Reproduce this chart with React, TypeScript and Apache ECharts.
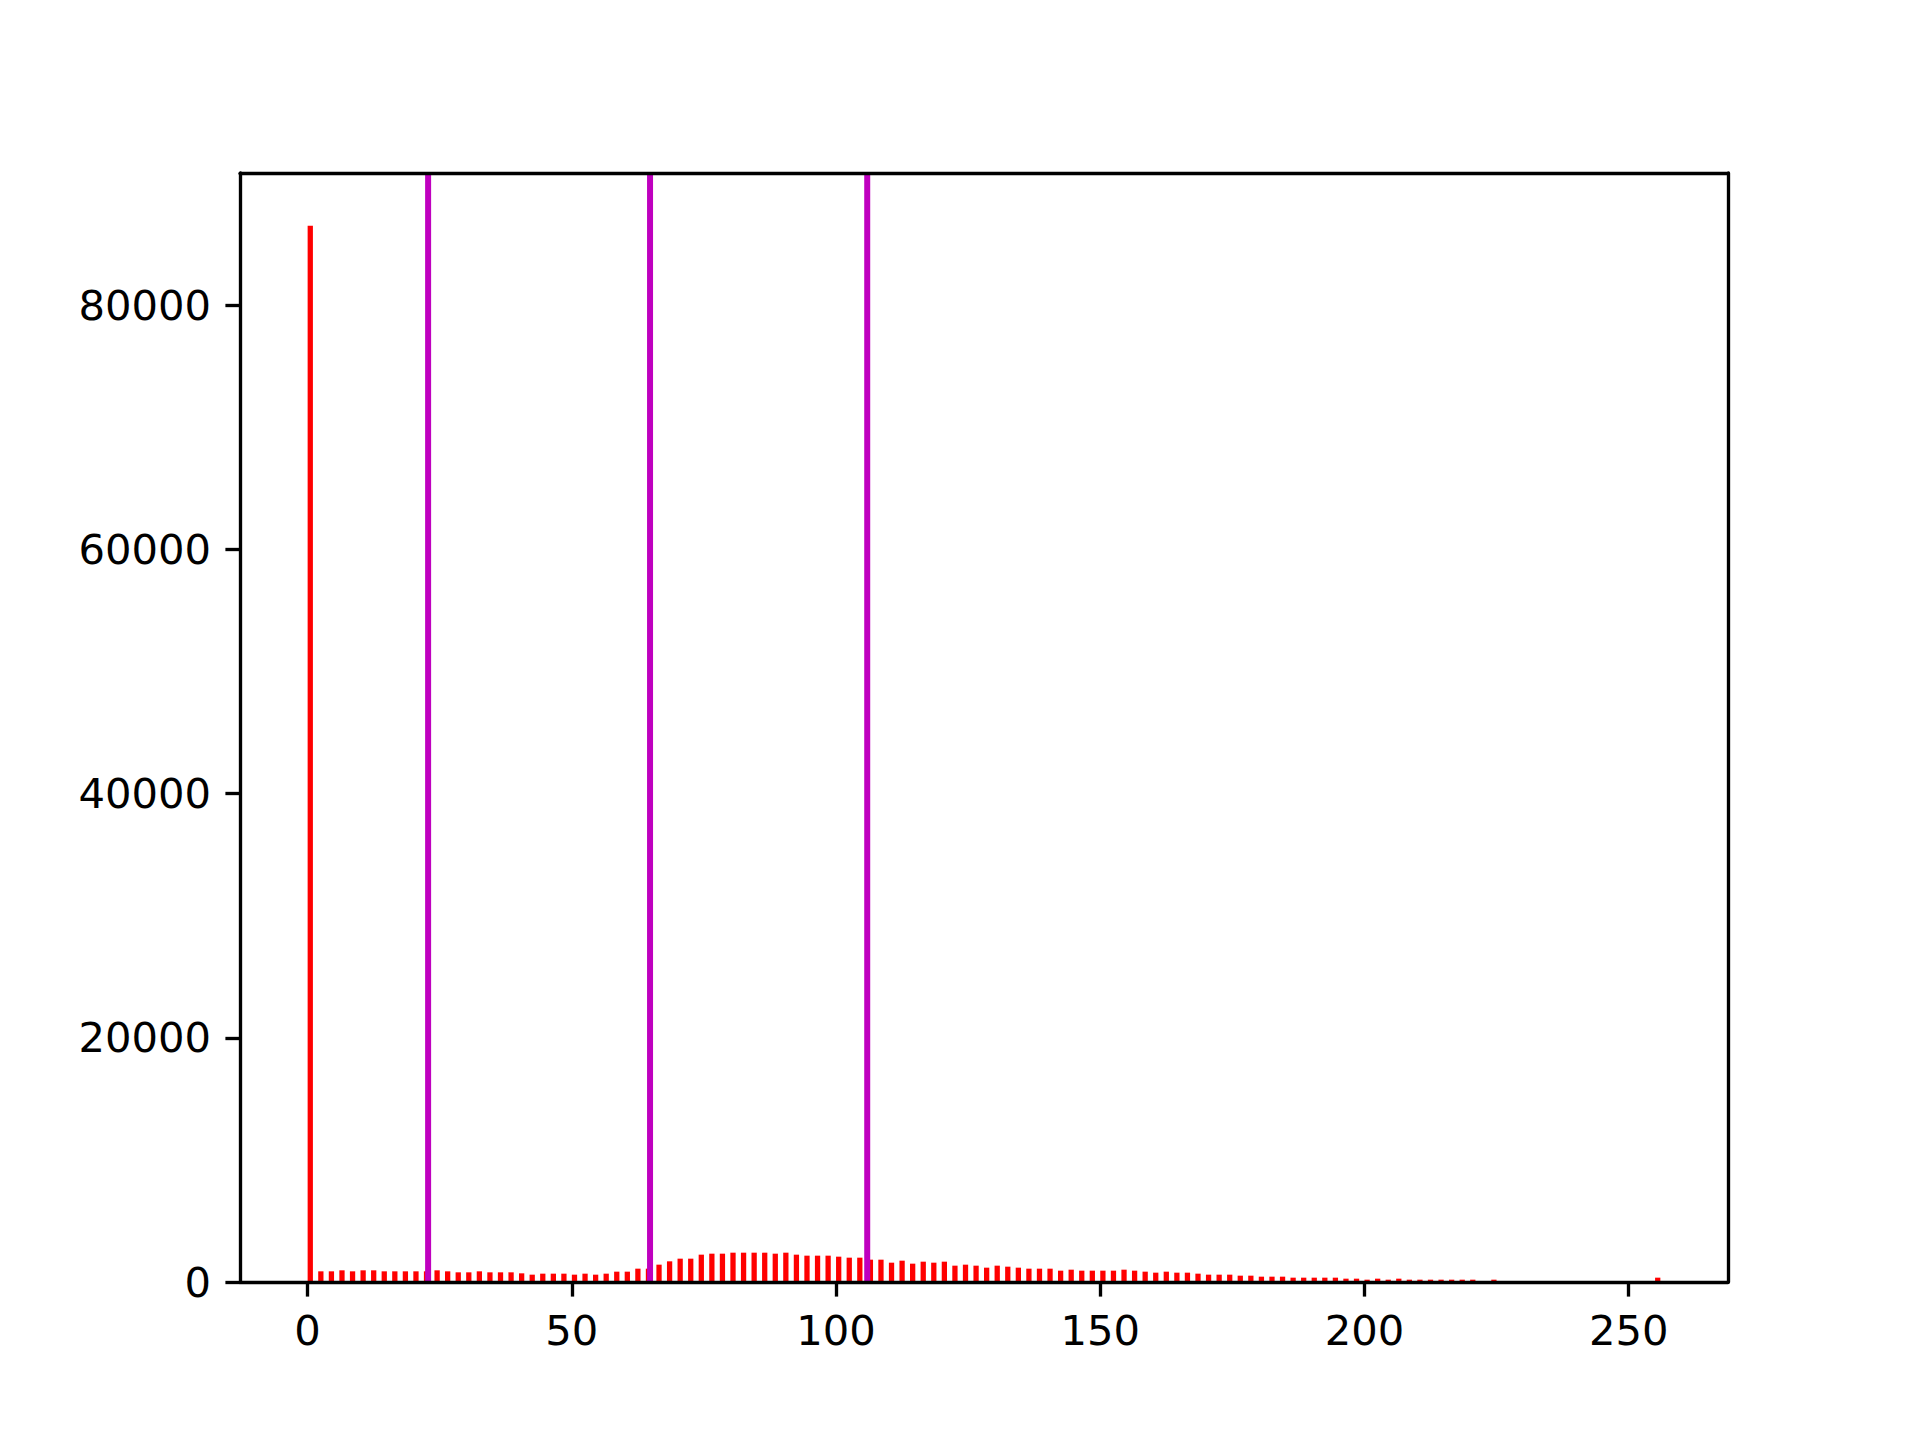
import React, { useEffect, useRef } from "react";
import * as echarts from "echarts";

// Histogram bins (left edge of each 1-wide bin) and their counts
const binStarts: number[] = [
  0, 2, 4, 6, 8, 10, 12, 14, 16, 18, 20, 22, 24, 26, 28, 30, 32, 34, 36, 38,
  40, 42, 44, 46, 48, 50, 52, 54, 56, 58, 60, 62, 64, 66, 68, 70, 72, 74, 76, 78,
  80, 82, 84, 86, 88, 90, 92, 94, 96, 98, 100, 102, 104, 106, 108, 110, 112, 114, 116, 118,
  120, 122, 124, 126, 128, 130, 132, 134, 136, 138, 140, 142, 144, 146, 148, 150, 152, 154, 156, 158,
  160, 162, 164, 166, 168, 170, 172, 174, 176, 178, 180, 182, 184, 186, 188, 190, 192, 194, 196, 198,
  200, 202, 204, 206, 208, 210, 212, 214, 216, 218, 220, 224, 255,
];
const counts: number[] = [
  86500, 874, 874, 956, 874, 956, 956, 874, 874, 874, 874, 874, 956, 874, 792, 792, 874, 792, 792, 792,
  710, 601, 683, 683, 683, 601, 683, 601, 683, 847, 847, 1092, 1092, 1420, 1693, 1911, 1911, 2239, 2320, 2320,
  2402, 2402, 2402, 2402, 2320, 2402, 2239, 2157, 2157, 2157, 2075, 1993, 1993, 1829, 1829, 1583, 1747, 1502, 1665, 1583,
  1665, 1338, 1420, 1338, 1174, 1338, 1256, 1174, 1092, 1092, 1092, 928, 1010, 928, 928, 928, 928, 1010, 928, 847,
  765, 847, 765, 765, 683, 601, 601, 601, 519, 519, 437, 437, 437, 355, 355, 355, 355, 355, 273, 273,
  191, 273, 191, 273, 191, 191, 191, 191, 191, 191, 191, 191, 355,
];
const thresholds: number[] = [22.8, 64.8, 105.9];
const xTicks: number[] = [0, 50, 100, 150, 200, 250];
const yTicks: number[] = [0, 20000, 40000, 60000, 80000];

const X_MIN = -12.8;
const X_MAX = 268.8;
const Y_MAX = 90825;

export default function App() {
  const ref = useRef<HTMLDivElement>(null);
  useEffect(() => {
    if (!ref.current) return;
    const chart = echarts.init(ref.current, undefined, { renderer: "svg" });
    const font = { fontFamily: "DejaVu Sans", fontSize: 41.7, color: "#000" };
    const lw = 3.33;
    const hist = binStarts.map((b, i) => [b, counts[i]]);
    chart.setOption({
      animation: false,
      backgroundColor: "#fff",
      grid: { left: 240, right: 192, top: 173, bottom: 158 },
      xAxis: [
        {
          type: "value",
          min: X_MIN,
          max: X_MAX,
          position: "bottom",
          z: 10,
          axisLine: { show: true, onZero: false, lineStyle: { color: "#000", width: lw } },
          axisTick: { show: true, length: 14.6, customValues: xTicks, lineStyle: { color: "#000", width: lw } },
          axisLabel: { ...font, margin: 27, customValues: xTicks, formatter: (v: number) => String(v) },
          splitLine: { show: false },
        },
        {
          type: "value",
          min: X_MIN,
          max: X_MAX,
          position: "top",
          z: 10,
          axisLine: { show: true, onZero: false, lineStyle: { color: "#000", width: lw } },
          axisTick: { show: false },
          axisLabel: { show: false },
          splitLine: { show: false },
        },
      ],
      yAxis: [
        {
          type: "value",
          min: 0,
          max: Y_MAX,
          position: "left",
          z: 10,
          axisLine: { show: true, onZero: false, lineStyle: { color: "#000", width: lw } },
          axisTick: { show: true, length: 14.6, customValues: yTicks, lineStyle: { color: "#000", width: lw } },
          axisLabel: { ...font, margin: 29, customValues: yTicks, formatter: (v: number) => String(v) },
          splitLine: { show: false },
        },
        {
          type: "value",
          min: 0,
          max: Y_MAX,
          position: "right",
          z: 10,
          axisLine: { show: true, onZero: false, lineStyle: { color: "#000", width: lw } },
          axisTick: { show: false },
          axisLabel: { show: false },
          splitLine: { show: false },
        },
      ],
      series: [
        {
          type: "custom",
          xAxisIndex: 0,
          yAxisIndex: 0,
          clip: true,
          data: hist,
          renderItem: (params: any, api: any) => {
            const x = api.value(0);
            const v = api.value(1);
            const p0 = api.coord([x, 0]);
            const p1 = api.coord([x + 1, v]);
            return {
              type: "rect",
              shape: { x: p0[0], y: p1[1], width: p1[0] - p0[0], height: p0[1] - p1[1] },
              style: { fill: "#ff0000" },
            };
          },
        },
        {
          type: "custom",
          xAxisIndex: 0,
          yAxisIndex: 0,
          clip: true,
          data: thresholds.map((t) => [t]),
          renderItem: (params: any, api: any) => {
            const t = api.value(0);
            const a = api.coord([t, 0]);
            const b = api.coord([t, Y_MAX]);
            return {
              type: "line",
              shape: { x1: a[0], y1: a[1], x2: b[0], y2: b[1] },
              style: { stroke: "#bf00bf", lineWidth: 6 },
            };
          },
        },
      ],
    });
    return () => chart.dispose();
  }, []);
  return (
    <div
      ref={ref}
      style={{ position: "absolute", left: 0, top: 0, width: 1920, height: 1440, background: "#fff" }}
    />
  );
}
